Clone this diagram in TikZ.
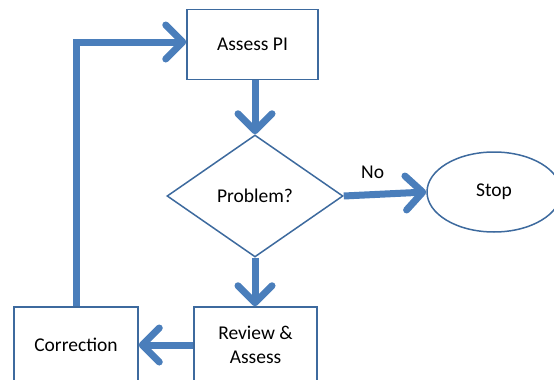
\documentclass[tikz,border=0pt]{standalone}
\usepackage{fontspec}
\setmainfont{Carlito}
\usetikzlibrary{shapes.geometric,arrows.meta}
\definecolor{arrowblue}{HTML}{4A7EBB}
\definecolor{edgeblue}{HTML}{3D6A9E}
\tikzset{
  x=1pt,y=-1pt,
  every node/.style={font=\fontsize{19.5}{24}\selectfont, text=black},
  boxnode/.style={draw=edgeblue, line width=1.5pt, fill=white, inner sep=0pt, align=center},
  flow/.style={draw=arrowblue, line width=7pt,
    -{Straight Barb[length=17pt,width=34pt,line cap=round,line join=round]}}
}
\begin{document}
\begin{tikzpicture}
\useasboundingbox (0,0) rectangle (554,380);
\clip (0,0) rectangle (554,380);
\node[boxnode, rectangle, minimum width=131pt, minimum height=70pt] (assess) at (252.5,44.5) {Assess PI};
\node[boxnode, diamond, minimum width=176pt, minimum height=122pt] (problem) at (255,196) {Problem?};
\node[boxnode, ellipse, minimum width=134pt, minimum height=80pt] (stop) at (494,192) {Stop};
\node[boxnode, rectangle, minimum width=123pt, minimum height=76pt] (review) at (255.5,345) {Review \&\\Assess};
\node[boxnode, rectangle, minimum width=124pt, minimum height=76pt] (corr) at (76,345) {Correction};
\draw[flow] (assess.south -| problem.north) -- (problem.north);
\draw[flow] (problem.east) -- node[above=9pt, pos=0.35] (nolabel) {No} (stop.west);
\draw[flow] (problem.south) -- (problem.south |- review.north);
\draw[flow] (review.west) -- (corr.east);
\draw[flow] (corr.north) |- ([yshift=2.5pt]assess.west);
\end{tikzpicture}
\end{document}
